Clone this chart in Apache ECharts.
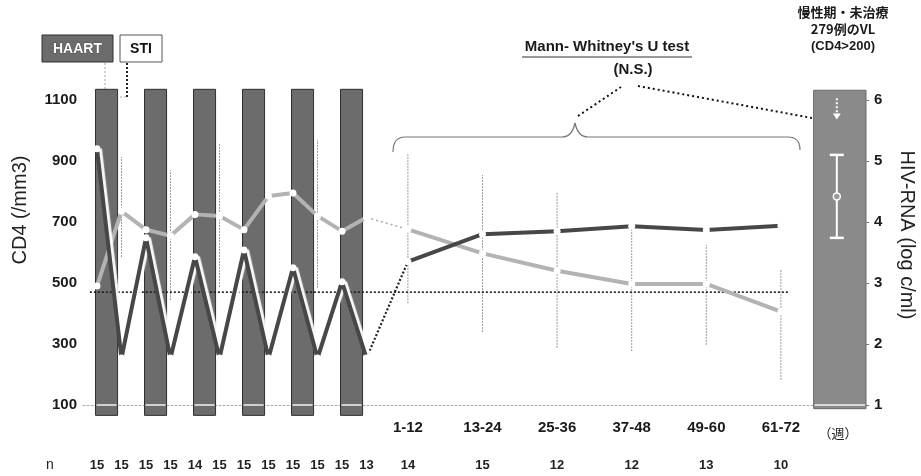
<!DOCTYPE html>
<html>
<head>
<meta charset="utf-8">
<script src="https://cdn.jsdelivr.net/npm/echarts@6/dist/echarts.min.js"></script>
<style>
  html, body { margin: 0; padding: 0; background: #fff; }
  #chart { width: 921px; height: 476px; }
</style>
</head>
<body>
<div id="chart"></div>
<script>
// CD4 count and HIV-RNA through six HAART/STI cycles, the 12-week follow-up blocks,
// and the untreated chronic-phase viral load as a reference bar.

// ---- data ----
const stiN      = [15, 15, 15, 15, 14, 15, 15, 15, 15, 15, 15, 13];
const stiCD4    = [490, 735, 675, 655, 725, 720, 675, 785, 795, 720, 670, 715];
const stiCD4Low = [null, 585, null, 444, null, 487, null, null, null, 484, null, null];
const stiCD4High= [null, 913, null, 870, null, 959, null, null, null, 969, null, null];
const stiVL     = [5.2, 1.77, 3.74, 1.77, 3.43, 1.77, 3.54, 1.77, 3.25, 1.77, 3.02, 1.77];
const haartStart = [0, 2, 4, 6, 8, 10];          // visit index where each HAART period begins

const periods   = ['1-12', '13-24', '25-36', '37-48', '49-60', '61-72'];
const fuN       = [14, 15, 12, 12, 13, 10];
const fuCD4     = [676, 597, 540, 497, 497, 406];
const fuCD4Low  = [434, 339, 287, 277, 297, 182];
const fuCD4High = [926, 854, 798, 690, 625, 543];
const fuVL      = [3.35, 3.80, 3.85, 3.93, 3.87, 3.94];

const chronicVL = [3.74, 4.42, 5.10];            // low, mean, high
const refCD4    = 470;

const cd4Ticks  = [100, 300, 500, 700, 900, 1100];
const vlTicks   = [1, 2, 3, 4, 5, 6];

// ---- layout ----
const LATIN = '"Liberation Sans", Arial, Helvetica, sans-serif';
const CJK = '"Noto Sans CJK JP", sans-serif';
const X_MIN = -0.571, X_MAX = 31.388;
const FU_X0 = 12.69, FU_STEP = 3.045, CHRONIC_X0 = 29.25;
const stiX = i => i;
const fuX = j => FU_X0 + j * FU_STEP;

const BAR_FILL = '#6c6c6c';
const CHRONIC_FILL = '#8a8a8a';
const LIGHT = '#b3b3b3';
const DARK = '#474747';

const chart = echarts.init(document.getElementById('chart'));

const markerStyle = { color: '#fff', borderWidth: 0 };

function lineSeries(name, data, yAxisIndex, color, z, extra) {
  return Object.assign({
    name, type: 'line', data, xAxisIndex: 0, yAxisIndex,
    symbol: 'circle', symbolSize: 7, showSymbol: true,
    itemStyle: markerStyle,
    lineStyle: { color, width: 4 },
    z, silent: true, animation: false
  }, extra || {});
}

const braceStyle = { stroke: '#777', lineWidth: 1.2, fill: null };
const plainNumber = v => String(v);

const option = {
  animation: false,
  grid: { left: 83, right: 55, top: 100, bottom: 71 },
  xAxis: [{
    type: 'value', min: X_MIN, max: X_MAX,
    axisLine: { show: true, onZero: false, lineStyle: { color: '#aaa', type: [2, 2], width: 1 } },
    axisTick: { show: false }, axisLabel: { show: false }, splitLine: { show: false }
  }],
  yAxis: [{
    type: 'value', min: 100, max: 1100, interval: 200, position: 'left',
    axisLine: { show: true, lineStyle: { color: '#aaa', type: [2, 2], width: 1 } },
    axisTick: { show: false },
    axisLabel: { customValues: cd4Ticks, formatter: plainNumber, margin: 6, color: '#1a1a1a',
                 fontFamily: LATIN, fontWeight: 'bold', fontSize: 15 },
    splitLine: { show: false }
  }, {
    type: 'value', min: 1, max: 6, interval: 1, position: 'right',
    axisLine: { show: false },
    axisTick: { show: true, length: 3, inside: false, customValues: vlTicks,
                lineStyle: { color: '#777' } },
    axisLabel: { customValues: vlTicks, formatter: plainNumber, margin: 8, color: '#1a1a1a',
                 fontFamily: LATIN, fontWeight: 'bold', fontSize: 15 },
    splitLine: { show: false }
  }],
  series: [
    // HAART periods
    {
      type: 'custom', xAxisIndex: 0, yAxisIndex: 0, z: 1, silent: true,
      encode: { x: 0 },
      data: haartStart.map(i => [stiX(i)]),
      renderItem(params, api) {
        const x = api.value(0);
        const p0 = api.coord([x - 0.06, 1135]);
        const p1 = api.coord([x + 0.84, 66]);
        const base = api.coord([x, 100]);
        return {
          type: 'group', children: [
            { type: 'rect', shape: { x: p0[0], y: p0[1], width: p1[0] - p0[0], height: p1[1] - p0[1] },
              style: { fill: BAR_FILL, stroke: '#2e2e2e', lineWidth: 1 } },
            { type: 'line', shape: { x1: p0[0] + 1, y1: base[1], x2: p1[0] - 1, y2: base[1] },
              style: { stroke: '#f2f2f2', lineWidth: 1.5 } }
          ]
        };
      }
    },
    // chronic-phase reference bar with mean ± SD
    {
      type: 'custom', xAxisIndex: 0, yAxisIndex: 1, z: 1, silent: true,
      encode: { x: 0, y: 2 },
      data: [[ (CHRONIC_X0 + X_MAX) / 2 ].concat(chronicVL)],
      renderItem(params, api) {
        const cx = api.value(0);
        const lo = api.value(1), mean = api.value(2), hi = api.value(3);
        const p0 = api.coord([CHRONIC_X0, 6.16]);
        const p1 = api.coord([X_MAX, 0.94]);
        const c = api.coord([cx, mean]);
        const a = api.coord([cx, lo]);
        const b = api.coord([cx, hi]);
        const xm = c[0] - 3;
        const arrTop = api.coord([cx, 6.03]);
        const arrEnd = api.coord([cx, 5.78]);
        const base = api.coord([cx, 1]);
        return {
          type: 'group', children: [
            { type: 'rect', shape: { x: p0[0], y: p0[1], width: p1[0] - p0[0], height: p1[1] - p0[1] },
              style: { fill: CHRONIC_FILL, stroke: '#6a6a6a', lineWidth: 1 } },
            { type: 'line', shape: { x1: p0[0] + 1, y1: base[1], x2: p1[0] - 1, y2: base[1] },
              style: { stroke: '#f2f2f2', lineWidth: 1.5 } },
            { type: 'line', shape: { x1: xm, y1: a[1], x2: xm, y2: b[1] },
              style: { stroke: '#fff', lineWidth: 2 } },
            { type: 'line', shape: { x1: xm - 7, y1: a[1], x2: xm + 7, y2: a[1] },
              style: { stroke: '#fff', lineWidth: 2.5 } },
            { type: 'line', shape: { x1: xm - 7, y1: b[1], x2: xm + 7, y2: b[1] },
              style: { stroke: '#fff', lineWidth: 2.5 } },
            { type: 'circle', shape: { cx: xm, cy: c[1], r: 3.5 },
              style: { fill: '#9a9a9a', stroke: '#fff', lineWidth: 1.5 } },
            { type: 'line', shape: { x1: xm, y1: arrTop[1], x2: xm, y2: arrEnd[1] },
              style: { stroke: '#fff', lineWidth: 2, lineDash: [2, 2] } },
            { type: 'polygon', shape: { points: [[xm - 4, arrEnd[1]], [xm + 4, arrEnd[1]], [xm, arrEnd[1] + 6]] },
              style: { fill: '#fff' } }
          ]
        };
      }
    },
    // CD4 spread (SD) bars
    {
      type: 'custom', xAxisIndex: 0, yAxisIndex: 0, z: 2, silent: true,
      encode: { x: 0, y: [1, 2] },
      data: stiCD4Low.map((lo, i) => [stiX(i), lo, stiCD4High[i]])
              .concat(fuCD4Low.map((lo, j) => [fuX(j), lo, fuCD4High[j]]))
              .filter(d => d[1] != null),
      renderItem(params, api) {
        const a = api.coord([api.value(0), api.value(1)]);
        const b = api.coord([api.value(0), api.value(2)]);
        return { type: 'line', shape: { x1: a[0], y1: a[1], x2: b[0], y2: b[1] },
                 style: { stroke: '#9c9c9c', lineWidth: 1, lineDash: [2, 1] } };
      }
    },
    // reference level
    {
      type: 'line', xAxisIndex: 0, yAxisIndex: 0, z: 3, silent: true, symbol: 'none',
      data: [[X_MIN + 0.28, refCD4], [fuX(periods.length - 1) + 0.35, refCD4]],
      lineStyle: { color: '#1a1a1a', width: 1.6, type: [2, 2] }
    },
    // CD4
    lineSeries('CD4 STI', stiCD4.map((v, i) => [stiX(i), v]), 0, LIGHT, 4),
    lineSeries('CD4 follow-up', fuCD4.map((v, j) => [fuX(j), v]), 0, LIGHT, 4),
    lineSeries('CD4 link', [[stiX(stiCD4.length - 1), stiCD4[stiCD4.length - 1]], [fuX(0), fuCD4[0]]], 0, '#a8a8a8', 3,
      { symbol: 'none', lineStyle: { color: '#a8a8a8', width: 1.5, type: [2, 3] } }),
    // HIV-RNA
    lineSeries('VL STI', stiVL.map((v, i) => [stiX(i), v]), 1, DARK, 5,
      { lineStyle: { color: DARK, width: 4, shadowColor: 'rgba(255,255,255,0.95)', shadowOffsetX: 3, shadowBlur: 1 } }),
    lineSeries('VL follow-up', fuVL.map((v, j) => [fuX(j), v]), 1, DARK, 5),
    lineSeries('VL link', [[stiX(stiVL.length - 1), stiVL[stiVL.length - 1]], [fuX(0), fuVL[0]]], 1, '#222', 3,
      { symbol: 'none', lineStyle: { color: '#222', width: 2.2, type: [2, 2] } }),
    // period labels and group sizes beneath the axis
    {
      type: 'custom', xAxisIndex: 0, yAxisIndex: 0, z: 6, silent: true,
      encode: { x: 0 },
      data: stiN.map((n, i) => [stiX(i), n])
              .concat(fuN.map((n, j) => [fuX(j), n])),
      renderItem(params, api) {
        const idx = params.dataIndex;
        const isFu = idx >= stiN.length;
        const p = api.coord([api.value(0), 100]);
        const n = isFu ? fuN[idx - stiN.length] : stiN[idx];
        const children = [{
          type: 'text', x: p[0], y: p[1] + 60,
          style: { text: String(n), font: 'bold 13px ' + LATIN, fill: '#222', align: 'center', verticalAlign: 'middle' }
        }];
        if (isFu) {
          children.push({
            type: 'text', x: p[0], y: p[1] + 23,
            style: { text: periods[idx - stiN.length], font: 'bold 15px ' + LATIN, fill: '#1a1a1a', align: 'center', verticalAlign: 'middle' }
          });
        }
        return { type: 'group', children };
      }
    }
  ],
  graphic: [
    // treatment legend boxes
    { type: 'rect', shape: { x: 42, y: 35, width: 71, height: 27 }, style: { fill: BAR_FILL, stroke: '#2e2e2e', lineWidth: 1 } },
    { type: 'text', x: 77.5, y: 49, style: { text: 'HAART', font: 'bold 14px ' + LATIN, fill: '#fff', stroke: '#333', lineWidth: 0.5, align: 'center', verticalAlign: 'middle' } },
    { type: 'rect', shape: { x: 120, y: 35, width: 42, height: 27 }, style: { fill: '#fff', stroke: '#555', lineWidth: 1 } },
    { type: 'text', x: 141, y: 49, style: { text: 'STI', font: 'bold 14px ' + LATIN, fill: '#111', align: 'center', verticalAlign: 'middle' } },
    { type: 'line', shape: { x1: 105, y1: 63, x2: 105, y2: 95 }, style: { stroke: '#c4c4c4', lineWidth: 1.5, lineDash: [2, 2] } },
    { type: 'line', shape: { x1: 127, y1: 63, x2: 127, y2: 97 }, style: { stroke: '#222', lineWidth: 2, lineDash: [2, 2] } },
    { type: 'line', shape: { x1: 126, y1: 97, x2: 116, y2: 97 }, style: { stroke: '#aaa', lineWidth: 1, lineDash: [2, 2] } },

    // axis titles
    { type: 'text', x: 20, y: 210, rotation: Math.PI / 2,
      style: { text: 'CD4 (/mm3)', font: '20px ' + LATIN, fill: '#222', align: 'center', verticalAlign: 'middle' } },
    { type: 'text', x: 907, y: 235, rotation: -Math.PI / 2,
      style: { text: 'HIV-RNA (log c/ml)', font: '20px ' + LATIN, fill: '#222', align: 'center', verticalAlign: 'middle' } },

    // statistical test annotation
    { type: 'text', x: 607, y: 47, style: { text: "Mann- Whitney's U test", font: 'bold 15px ' + LATIN, fill: '#1a1a1a', align: 'center', verticalAlign: 'middle' } },
    { type: 'line', shape: { x1: 522, y1: 57, x2: 692, y2: 57 }, style: { stroke: '#333', lineWidth: 1 } },
    { type: 'text', x: 633, y: 70, style: { text: '(N.S.)', font: 'bold 15px ' + LATIN, fill: '#1a1a1a', align: 'center', verticalAlign: 'middle' } },
    // curly brace over the follow-up blocks
    { type: 'bezierCurve', shape: { x1: 393, y1: 152, cpx1: 393, cpy1: 137, x2: 405, y2: 137 }, style: braceStyle },
    { type: 'line', shape: { x1: 405, y1: 137, x2: 562, y2: 137 }, style: braceStyle },
    { type: 'bezierCurve', shape: { x1: 562, y1: 137, cpx1: 572, cpy1: 137, x2: 575, y2: 123 }, style: braceStyle },
    { type: 'bezierCurve', shape: { x1: 575, y1: 123, cpx1: 578, cpy1: 137, x2: 588, y2: 137 }, style: braceStyle },
    { type: 'line', shape: { x1: 588, y1: 137, x2: 788, y2: 137 }, style: braceStyle },
    { type: 'bezierCurve', shape: { x1: 788, y1: 137, cpx1: 800, cpy1: 137, x2: 800, y2: 150 }, style: braceStyle },
    { type: 'line', shape: { x1: 578, y1: 116, x2: 621, y2: 87 }, style: { stroke: '#111', lineWidth: 2, lineDash: [2, 3] } },
    { type: 'line', shape: { x1: 638, y1: 86, x2: 812, y2: 118 }, style: { stroke: '#111', lineWidth: 2, lineDash: [2, 3] } },

    // chronic-phase caption
    { type: 'text', x: 843, y: 12, style: { text: '慢性期・未治療', font: 'bold 13px ' + CJK, fill: '#1a1a1a', align: 'center', verticalAlign: 'middle' } },
    { type: 'text', x: 843, y: 29, style: { text: '279例のVL', font: 'bold 13px ' + CJK, fill: '#1a1a1a', align: 'center', verticalAlign: 'middle' } },
    { type: 'text', x: 843, y: 46, style: { text: '(CD4>200)', font: 'bold 13px ' + LATIN, fill: '#1a1a1a', align: 'center', verticalAlign: 'middle' } },

    // bottom captions
    { type: 'text', x: 838, y: 433, style: { text: '（週）', font: '13px ' + CJK, fill: '#222', align: 'center', verticalAlign: 'middle' } },
    { type: 'text', x: 50, y: 465, style: { text: 'n', font: '14px ' + LATIN, fill: '#222', align: 'center', verticalAlign: 'middle' } }
  ]
};

chart.setOption(option);
</script>
</body>
</html>
